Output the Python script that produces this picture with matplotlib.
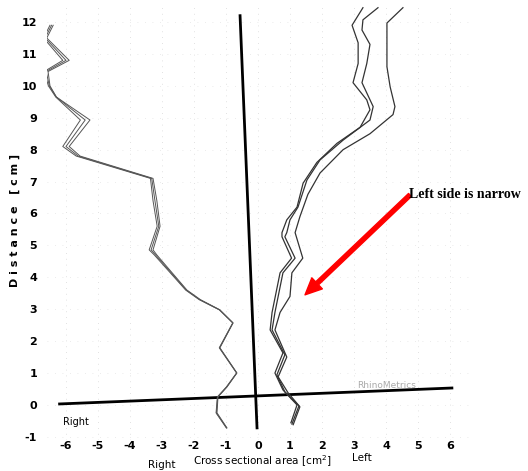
import matplotlib.pyplot as plt

plt.rcParams["axes.unicode_minus"] = False

# right side (negative values), three almost overlapping traces
right_y = [11.9, 11.5, 10.8, 10.45, 10.0, 9.65, 8.93, 8.1, 7.8, 7.1, 6.4, 5.6, 4.86, 4.7,
           3.6, 3.3, 2.98, 2.57, 1.79, 1.0, 0.56, 0.25, -0.25, -0.72]
right_1 = [-6.40, -6.60, -5.90, -6.56, -6.50, -6.30, -5.25, -5.90, -5.56, -3.28, -3.16, -3.06,
           -3.28, -3.16, -2.22, -1.80, -1.19, -0.78, -1.19, -0.66, -0.97, -1.25, -1.28, -0.97]
right_2 = [-6.45, -6.65, -6.00, -6.62, -6.52, -6.30, -5.40, -6.00, -5.62, -3.32, -3.22, -3.10,
           -3.34, -3.20, -2.24, -1.82, -1.20, -0.78, -1.20, -0.66, -0.98, -1.26, -1.30, -0.98]
right_3 = [-6.50, -6.70, -6.10, -6.68, -6.55, -6.32, -5.55, -6.10, -5.68, -3.36, -3.28, -3.15,
           -3.40, -3.24, -2.26, -1.84, -1.21, -0.79, -1.21, -0.67, -0.99, -1.27, -1.31, -0.99]

# left side (positive values), three traces
left_a_x = [3.28, 2.94, 3.13, 3.13, 2.97, 3.40, 3.50, 3.19, 2.47, 1.84, 1.41, 1.22, 0.90, 0.75,
            0.75, 1.05, 0.69, 0.44, 0.38, 0.78, 0.53, 0.78, 1.22, 1.03]
left_a_y = [12.45, 11.9, 11.35, 10.7, 10.1, 9.56, 9.25, 8.7, 8.2, 7.6, 6.95, 6.2, 5.8, 5.4,
            5.27, 4.6, 4.14, 2.9, 2.35, 1.63, 1.0, 0.47, 0.0, -0.56]
left_b_x = [3.75, 3.28, 3.25, 3.50, 3.40, 3.25, 3.60, 3.50, 2.66, 1.94, 1.53, 1.25, 1.00, 0.90,
            0.84, 1.16, 0.78, 0.53, 0.44, 0.84, 0.59, 0.84, 1.28, 1.06]
left_b_y = [12.45, 12.07, 11.75, 11.3, 10.7, 10.1, 9.35, 8.93, 8.3, 7.68, 7.05, 6.2, 5.8, 5.4,
            5.27, 4.6, 4.14, 2.9, 2.35, 1.57, 0.94, 0.41, -0.03, -0.6]
left_c_x = [4.53, 4.03, 4.03, 4.13, 4.28, 4.22, 3.50, 2.66, 1.94, 1.56, 1.31, 1.16,
            1.40, 1.06, 1.00, 0.69, 0.53, 0.90, 0.63, 0.94, 1.31, 1.10]
left_c_y = [12.45, 11.97, 10.6, 9.97, 9.35, 9.1, 8.5, 8.0, 7.27, 6.6, 5.9, 5.4,
            4.6, 4.14, 3.4, 2.9, 2.35, 1.5, 0.88, 0.38, -0.06, -0.62]

x_ticks = [-6, -5, -4, -3, -2, -1, 0, 1, 2, 3, 4, 5, 6]
y_ticks = [-1, 0, 1, 2, 3, 4, 5, 6, 7, 8, 9, 10, 11, 12]

# the scanned axes are slightly tilted
vaxis_x = [-0.56, -0.03]
vaxis_y = [12.2, -0.72]
haxis_x = [-6.2, 6.06]
haxis_y = [0.03, 0.53]

fig = plt.figure(figsize=(5.28, 4.71), dpi=100)
ax = fig.add_axes([0.0886, 0.0658, 0.80, 0.928])
ax.set_xlim(-6.6, 6.6)
ax.set_ylim(-1.1, 12.6)
for s in ax.spines.values():
    s.set_visible(False)

# faint dotted grid like the scanned paper
for t in x_ticks:
    ax.axvline(t, color="#d8d8d8", lw=0.6, ls=(0, (1, 6)), zorder=0)
for t in y_ticks:
    ax.axhline(t, color="#e4e4e4", lw=0.6, ls=(0, (1, 8)), zorder=0)

ax.plot(vaxis_x, vaxis_y, color="black", lw=2)
ax.plot(haxis_x, haxis_y, color="black", lw=2)

for xs in (right_1, right_2, right_3):
    ax.plot(xs, right_y, color="#555555", lw=0.7)
ax.plot(left_a_x, left_a_y, color="#333333", lw=0.9)
ax.plot(left_b_x, left_b_y, color="#333333", lw=0.9)
ax.plot(left_c_x, left_c_y, color="#333333", lw=0.9)

ax.set_xticks(x_ticks)
ax.set_yticks(y_ticks)
ax.tick_params(length=0, labelsize=8, pad=1)
ax.tick_params(axis="y", pad=7)
for lab in ax.get_xticklabels() + ax.get_yticklabels():
    lab.set_fontweight("bold")

ax.text(-6.1, -0.55, "Right", fontsize=7, ha="left", va="center")
ax.text(3.1, 0.6, "RhinoMetrics", fontsize=6.5, color="#aaaaaa", ha="left", va="center")

fig.text(0.307, 0.012, "Right", fontsize=7.5, ha="center", va="center")
fig.text(0.497, 0.021, "Cross sectional area [cm$^2$]", fontsize=7.5, ha="center", va="center")
fig.text(0.686, 0.028, "Left", fontsize=7.5, ha="center", va="center")
fig.text(0.028, 0.533, "D i s t a n c e   [ c m ]", fontsize=8, fontweight="bold",
         rotation=90, ha="center", va="center")

ax.annotate("", xy=(1.47, 3.45), xytext=(4.75, 6.58),
            arrowprops=dict(color="red", width=3, headwidth=11, headlength=12))
ax.text(4.72, 6.58, "Left side is narrow", fontsize=10, fontweight="bold",
        family="Liberation Serif", ha="left", va="center", clip_on=False)

fig.savefig("out.png", dpi=100)
